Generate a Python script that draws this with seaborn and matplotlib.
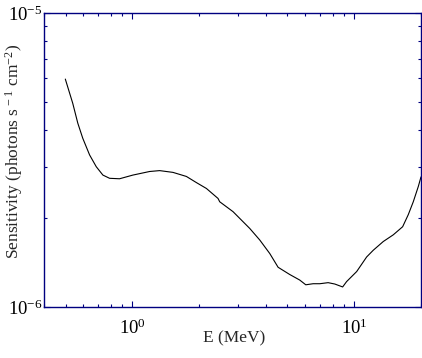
import numpy as np
import pandas as pd
import matplotlib
matplotlib.use("Agg")
import matplotlib.pyplot as plt
import matplotlib.ticker as mticker
import seaborn as sns

# Energy (MeV)
energy = [0.499, 0.539, 0.568, 0.598, 0.642, 0.688, 0.737, 0.790, 0.876, 1.006,
          1.197, 1.328, 1.525, 1.753, 1.944, 2.158, 2.434, 2.477, 2.844, 3.383,
          3.753, 4.164, 4.54, 5.121, 5.682, 6.05, 6.53, 7.00, 7.63, 8.18,
          8.87, 9.24, 10.26, 11.38, 12.19, 13.52, 15.0, 16.53, 17.52, 18.46,
          19.45, 20.0]
# Sensitivity (photons s^-1 cm^-2)
sensitivity = [5.96e-6, 4.93e-6, 4.22e-6, 3.75e-6, 3.29e-6, 3.00e-6, 2.81e-6, 2.74e-6, 2.73e-6, 2.81e-6,
               2.89e-6, 2.91e-6, 2.87e-6, 2.78e-6, 2.65e-6, 2.53e-6, 2.34e-6, 2.28e-6, 2.11e-6, 1.85e-6,
               1.69e-6, 1.52e-6, 1.365e-6, 1.29e-6, 1.235e-6, 1.19e-6, 1.20e-6, 1.20e-6, 1.21e-6, 1.197e-6,
               1.17e-6, 1.22e-6, 1.32e-6, 1.48e-6, 1.56e-6, 1.67e-6, 1.76e-6, 1.875e-6, 2.06e-6, 2.28e-6,
               2.57e-6, 2.77e-6]

df = pd.DataFrame({"E": energy, "S": sensitivity})

sns.set_style("ticks")
plt.rcParams["font.family"] = ["Liberation Serif", "DejaVu Serif"]
plt.rcParams["mathtext.fontset"] = "custom"
plt.rcParams["mathtext.rm"] = "Liberation Serif"
plt.rcParams["mathtext.it"] = "Liberation Serif:italic"
plt.rcParams["mathtext.bf"] = "Liberation Serif:bold"

fig = plt.figure(figsize=(4.22, 3.58), dpi=100)
ax = fig.add_axes([44 / 422, 1 - 307 / 358, (421 - 44) / 422, (307 - 13) / 358])

sns.lineplot(data=df, x="E", y="S", ax=ax, color="black", linewidth=0.8, sort=False)

ax.set_xscale("log")
ax.set_yscale("log")
ax.set_xlim(0.4, 20)
ax.set_ylim(1e-6, 1e-5)

navy = "#000080"
for s in ax.spines.values():
    s.set_color(navy)
    s.set_linewidth(1.0)
    s.set_visible(True)

ax.xaxis.set_major_locator(mticker.LogLocator(base=10, numticks=10))
ax.xaxis.set_minor_locator(mticker.LogLocator(base=10, subs=np.arange(2, 10), numticks=20))
ax.yaxis.set_major_locator(mticker.LogLocator(base=10, numticks=10))
ax.yaxis.set_minor_locator(mticker.LogLocator(base=10, subs=np.arange(2, 10), numticks=20))
ax.xaxis.set_minor_formatter(mticker.NullFormatter())
ax.yaxis.set_minor_formatter(mticker.NullFormatter())

ax.tick_params(which="both", direction="in", top=True, right=True, color=navy,
               width=0.8, labelsize=13.5, labelcolor="black")
ax.tick_params(which="major", length=4.5)
ax.tick_params(which="minor", length=2.3)
ax.tick_params(axis="x", which="major", pad=8)
ax.tick_params(axis="y", which="major", pad=1)

ax.set_xlabel("E (MeV)", fontsize=12.5)
ax.set_ylabel(r"Sensitivity (photons s$^{\,-1}$ cm$^{-2}$)", fontsize=12.5)
ax.xaxis.set_label_coords(0.505, -0.08)
ax.yaxis.set_label_coords(-0.05, 0.53)

fig.savefig("out.png", dpi=100)
